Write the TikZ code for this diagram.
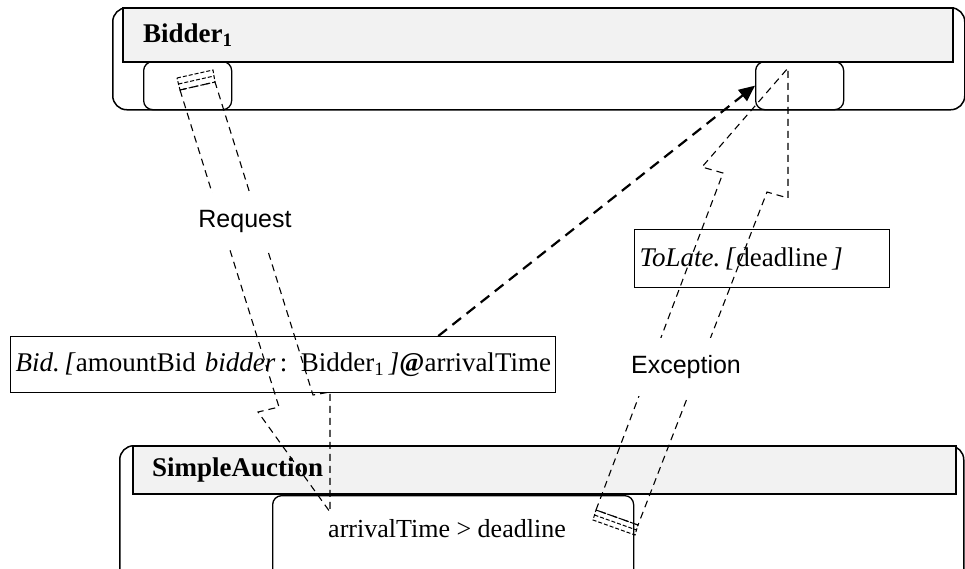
\documentclass[tikz,border=0pt]{standalone}
\usepackage{fontspec}
\setmainfont{Liberation Serif}
\setsansfont{Liberation Sans}
\usetikzlibrary{positioning,arrows.meta}
\definecolor{headgray}{HTML}{F2F2F2}

\tikzset{
  lifeline/.style = {draw, line width=1.5pt, rounded corners=14pt, anchor=north west, inner sep=0pt},
  headbar/.style = {draw, line width=1.5pt, fill=headgray, anchor=north west, inner sep=0pt},
  slot/.style = {draw, line width=1.3pt, rounded corners=9pt, anchor=north west, inner sep=0pt},
  title/.style = {font=\bfseries\fontsize{27}{30}\selectfont, inner sep=0pt},
  msgbox/.style = {draw, line width=1.3pt, anchor=north west, inner xsep=5pt, inner ysep=0pt,
    align=left, font=\fontsize{27}{30}\selectfont},
  flow/.style = {line width=1.1pt, dash pattern=on 7pt off 5pt, line join=miter},
  tail/.style = {line width=1pt, dash pattern=on 4pt off 2pt},
  bidflow/.style = {line width=2.2pt, dash pattern=on 11pt off 7pt, -{Triangle[length=16pt,width=14pt]}},
  flowlabel/.style = {fill=white, inner xsep=3pt, inner ysep=17pt, font=\sffamily\fontsize{25}{28}\selectfont}
}

\begin{document}
\begin{tikzpicture}[x=1pt, y=-1pt]
  \useasboundingbox (0,0) rectangle (965,568);
  % the lifelines
  \node[lifeline, minimum width=852pt, minimum height=102pt] (bidder) at (112,7) {};
  \node[headbar, minimum width=830pt, minimum height=54pt] (bidder bar) at (122,7) {};
  \node[title, right=21pt of bidder bar.west] (bidder name) {Bidder\textsubscript{1}};
  \node[slot, minimum width=88pt, minimum height=48pt] (bid slot) at (143,61) {};
  \node[slot, minimum width=88pt, minimum height=48pt] (late slot) at (755,61) {};
  \node[lifeline, minimum width=844pt, minimum height=160pt] (auction) at (119,445) {};
  \node[headbar, minimum width=823pt, minimum height=48pt] (auction bar) at (132,445) {};
  \node[title, right=20pt of auction bar.west] (auction name) {SimpleAuction};
  \node[slot, minimum width=361pt, minimum height=110pt] (guard) at (272,495) {};
  \node[font=\fontsize{26}{30}\selectfont] (guard text) at (447,529) {arrivalTime > deadline};
  % the messages
  \node[msgbox, text width=535pt, minimum height=56pt] (bid msg) at (10,336)
    {\mbox{\textit{Bid.\,[}amountBid \textit{bidder}\,: Bidder\textsubscript{1}\,\textit{]}\textbf{@}arrivalTime}};
  \node[msgbox, text width=245pt, minimum height=58pt] (late msg) at (634,229)
    {\mbox{\textit{ToLate.\,[}deadline\,\textit{]}}};
  % the flows
  \draw[flow] (180,90) -- (279,407) -- (258,412) -- (330,512) -- (330,392) -- (313,395) -- (215,82) -- cycle;
  \draw[tail] (177,78) -- (213,70) -- (215,82) -- (180,90) -- cycle;
  \draw[tail] (178.5,84) -- (214,76);
  \draw[flow] (596,510) -- (723,173) -- (702,167) -- (788,68) -- (788,198) -- (767,192) -- (638,525) -- cycle;
  \draw[tail] (596,510) -- (638,525) -- (635,535) -- (593,520) -- cycle;
  \draw[tail] (594.5,515) -- (636.5,530);
  \draw[bidflow] ([xshift=-118pt]bid msg.north east) -- (late slot.west);
  \node[flowlabel] (request) at (245,221) {Request};
  \node[flowlabel] (exception) at (686,367) {Exception};
\end{tikzpicture}
\end{document}
